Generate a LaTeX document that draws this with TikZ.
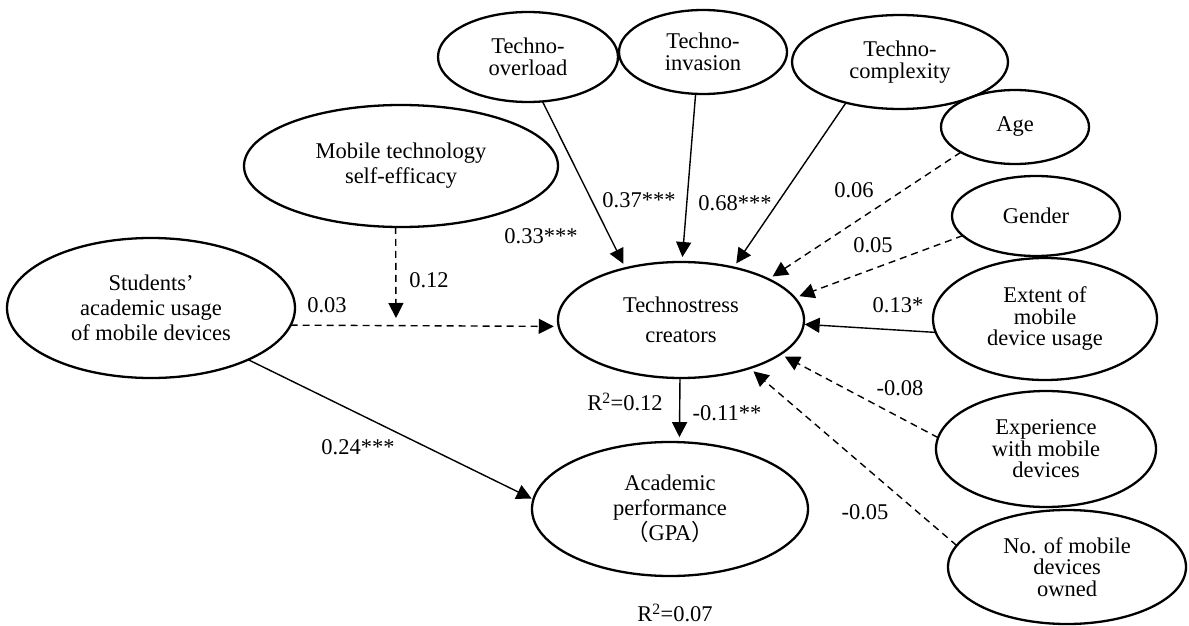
\documentclass[tikz,border=0pt]{standalone}
\usepackage{fontspec}
\setmainfont{Liberation Serif}
\newfontfamily\cjk{Noto Sans CJK SC}
\usetikzlibrary{shapes.geometric,arrows.meta}
\begin{document}
\begin{tikzpicture}[x=1pt,y=1pt,
  lat/.style={draw, ellipse, line width=2.3pt, inner sep=0pt, outer sep=0pt, align=center, font=\fontsize{22.5}{25}\selectfont},
  tight/.style={font=\fontsize{22.5}{21.5}\selectfont},
  conn/.style={line width=1.4pt, -{Triangle[length=15pt,width=15pt]}, shorten >=5pt},
  dconn/.style={conn, dash pattern=on 7pt off 5pt},
  lab/.style={font=\fontsize{22.5}{25}\selectfont, inner sep=0pt}]
\useasboundingbox (0,0) rectangle (1189,-626);
% latent variables
\node[lat, tight, minimum width=180pt, minimum height=90pt] (ovl) at (528,-57) {Techno-\\overload};
\node[lat, tight, minimum width=168pt, minimum height=84pt] (inv) at (703,-52) {Techno-\\invasion};
\node[lat, tight, minimum width=216pt, minimum height=94pt] (cpx) at (900,-62) {Techno-\\complexity};
\node[lat, minimum width=148pt, minimum height=74pt] (age) at (1015,-127) {Age};
\node[lat, minimum width=168pt, minimum height=80pt] (gen) at (1036,-216) {Gender};
\node[lat, tight, minimum width=224pt, minimum height=122pt] (ext) at (1045,-319) {Extent of\\mobile\\device usage};
\node[lat, tight, minimum width=220pt, minimum height=116pt] (exp) at (1046,-449) {Experience\\with mobile\\devices};
\node[lat, tight, minimum width=238pt, minimum height=114pt] (own) at (1067,-567) {No. of mobile\\devices\\owned};
\node[lat, font=\fontsize{22.5}{30}\selectfont, minimum width=246pt, minimum height=116pt] (tc) at (681,-320) {Technostress\\creators};
\node[lat, minimum width=276pt, minimum height=134pt] (ap) at (670,-509) {Academic\\performance\\{\cjk （}GPA{\cjk ）}};
\node[lat, minimum width=288pt, minimum height=140pt] (stu) at (151,-308) {Students’\\academic usage\\of mobile devices};
\node[lat, minimum width=314pt, minimum height=122pt] (mse) at (401,-166) {Mobile technology\\self-efficacy};
% connectors
\draw[conn] (ovl.288) -- (tc.137);
\draw[conn] (inv.260) -- (tc.89);
\draw[conn] (cpx.217) -- (tc.45);
\draw[dconn] (age.205) -- (tc.25);
\draw[dconn] (gen.195) -- (tc.11);
\draw[conn, shorten >=1pt] (ext.187) -- (tc.-2);
\draw[dconn] (exp.174) -- (tc.-19);
\draw[dconn] (own.169) -- (tc.-35);
\draw[conn] (tc.269) -- (ap.82);
\draw[dconn] (stu.353) -- (tc.183);
\coordinate (mod) at (396,-322);
\draw[dconn, shorten >=4pt] (mse.265) -- (mod);
\draw[conn, shorten >=2pt] (stu.332) -- (ap.176);
% labels
\node[lab] (l1) at (541,-236) {0.33***};
\node[lab] (l2) at (639,-200) {0.37***};
\node[lab] (l3) at (735,-203) {0.68***};
\node[lab] (l4) at (854,-190) {0.06};
\node[lab] (l5) at (873,-245) {0.05};
\node[lab] (l6) at (898,-305) {0.13*};
\node[lab] (l7) at (900,-388) {-0.08};
\node[lab] (l8) at (865,-512) {-0.05};
\node[lab] (l9) at (625,-402) {R\textsuperscript{2}=0.12};
\node[lab] (l10) at (727,-413) {-0.11**};
\node[lab] (l11) at (327,-305) {0.03};
\node[lab] (l12) at (429,-280) {0.12};
\node[lab] (l13) at (358,-447) {0.24***};
\node[lab] (l14) at (675,-613) {R\textsuperscript{2}=0.07};
\end{tikzpicture}
\end{document}
